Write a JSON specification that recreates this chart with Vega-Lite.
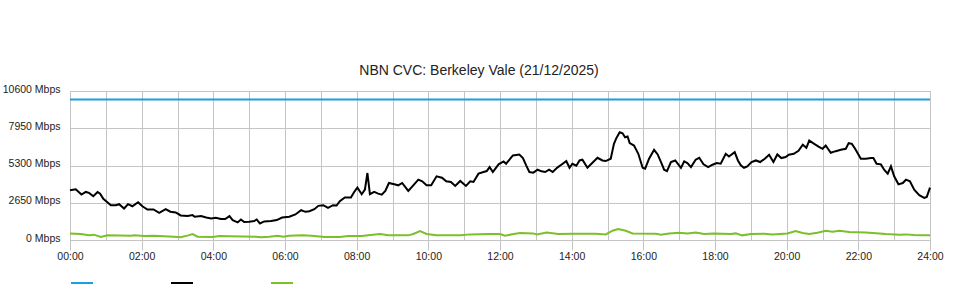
{
  "$schema": "https://vega.github.io/schema/vega-lite/v6.json",
  "width": 860,
  "height": 149,
  "autosize": {"type": "none"},
  "padding": {"left": 70, "top": 91, "right": 30, "bottom": 60},
  "background": "white",
  "title": {"text": "NBN CVC: Berkeley Vale (21/12/2025)", "font": "Liberation Sans", "fontSize": 14, "fontWeight": "normal", "color": "#222222", "offset": 6, "dx": -21},
  "datasets": {
    "cap": [{"h": 0, "v": 10000}, {"h": 24, "v": 10000}],
    "down": [
      {"h":0.00,"v":3540},{"h":0.16,"v":3610},{"h":0.32,"v":3230},{"h":0.44,"v":3420},{"h":0.53,"v":3350},{"h":0.65,"v":3110},{"h":0.77,"v":3420},{"h":0.84,"v":3300},{"h":0.93,"v":2925},{"h":1.14,"v":2477},{"h":1.28,"v":2477},{"h":1.37,"v":2548},{"h":1.51,"v":2240},{"h":1.62,"v":2548},{"h":1.74,"v":2400},{"h":1.90,"v":2690},{"h":2.02,"v":2400},{"h":2.16,"v":2170},{"h":2.33,"v":2170},{"h":2.49,"v":1935},{"h":2.67,"v":2195},{"h":2.80,"v":2010},{"h":2.95,"v":1960},{"h":3.09,"v":1745},{"h":3.28,"v":1700},{"h":3.42,"v":1770},{"h":3.48,"v":1650},{"h":3.66,"v":1700},{"h":3.80,"v":1600},{"h":3.94,"v":1530},{"h":4.07,"v":1580},{"h":4.21,"v":1490},{"h":4.33,"v":1490},{"h":4.45,"v":1700},{"h":4.54,"v":1415},{"h":4.68,"v":1250},{"h":4.77,"v":1460},{"h":4.86,"v":1275},{"h":5.00,"v":1300},{"h":5.14,"v":1345},{"h":5.21,"v":1460},{"h":5.30,"v":1180},{"h":5.42,"v":1320},{"h":5.61,"v":1345},{"h":5.77,"v":1415},{"h":5.92,"v":1600},{"h":6.12,"v":1650},{"h":6.29,"v":1815},{"h":6.45,"v":2120},{"h":6.57,"v":2005},{"h":6.68,"v":2050},{"h":6.82,"v":2195},{"h":6.93,"v":2430},{"h":7.07,"v":2477},{"h":7.20,"v":2290},{"h":7.34,"v":2477},{"h":7.44,"v":2450},{"h":7.53,"v":2760},{"h":7.67,"v":3020},{"h":7.84,"v":3020},{"h":7.93,"v":3420},{"h":8.02,"v":3730},{"h":8.14,"v":3255},{"h":8.23,"v":3585},{"h":8.30,"v":4765},{"h":8.37,"v":3255},{"h":8.49,"v":3420},{"h":8.60,"v":3300},{"h":8.70,"v":3230},{"h":8.80,"v":3490},{"h":8.90,"v":4055},{"h":9.05,"v":3960},{"h":9.16,"v":3890},{"h":9.27,"v":4055},{"h":9.44,"v":3490},{"h":9.58,"v":3890},{"h":9.72,"v":4290},{"h":9.83,"v":4175},{"h":9.95,"v":3890},{"h":10.08,"v":3890},{"h":10.23,"v":4530},{"h":10.38,"v":4435},{"h":10.50,"v":4175},{"h":10.63,"v":4130},{"h":10.75,"v":3845},{"h":10.89,"v":4200},{"h":11.05,"v":3845},{"h":11.17,"v":4175},{"h":11.26,"v":4130},{"h":11.40,"v":4720},{"h":11.54,"v":4835},{"h":11.63,"v":4905},{"h":11.71,"v":5190},{"h":11.80,"v":4835},{"h":11.96,"v":5380},{"h":12.10,"v":5590},{"h":12.17,"v":5425},{"h":12.36,"v":6015},{"h":12.54,"v":6085},{"h":12.64,"v":5830},{"h":12.73,"v":5310},{"h":12.82,"v":4835},{"h":12.93,"v":4790},{"h":13.05,"v":5000},{"h":13.16,"v":4885},{"h":13.26,"v":4835},{"h":13.37,"v":5000},{"h":13.47,"v":4835},{"h":13.60,"v":5150},{"h":13.71,"v":5355},{"h":13.85,"v":5615},{"h":13.94,"v":5140},{"h":14.02,"v":5425},{"h":14.13,"v":5285},{"h":14.22,"v":5660},{"h":14.30,"v":5710},{"h":14.44,"v":5140},{"h":14.58,"v":5495},{"h":14.72,"v":5850},{"h":14.86,"v":5660},{"h":14.95,"v":5615},{"h":15.09,"v":5780},{"h":15.18,"v":6840},{"h":15.25,"v":7265},{"h":15.34,"v":7665},{"h":15.42,"v":7595},{"h":15.49,"v":7310},{"h":15.56,"v":7360},{"h":15.62,"v":6890},{"h":15.74,"v":6720},{"h":15.86,"v":6135},{"h":15.98,"v":5140},{"h":16.05,"v":5070},{"h":16.16,"v":5780},{"h":16.30,"v":6415},{"h":16.40,"v":6085},{"h":16.52,"v":5380},{"h":16.58,"v":5000},{"h":16.66,"v":4905},{"h":16.77,"v":5545},{"h":16.89,"v":5660},{"h":17.05,"v":5130},{"h":17.14,"v":5590},{"h":17.23,"v":5475},{"h":17.33,"v":5190},{"h":17.46,"v":5710},{"h":17.56,"v":5850},{"h":17.68,"v":5380},{"h":17.81,"v":5190},{"h":17.93,"v":5355},{"h":18.05,"v":5475},{"h":18.16,"v":5425},{"h":18.30,"v":6135},{"h":18.39,"v":5945},{"h":18.55,"v":6250},{"h":18.64,"v":5660},{"h":18.72,"v":5310},{"h":18.81,"v":5140},{"h":18.90,"v":5240},{"h":19.02,"v":5545},{"h":19.14,"v":5660},{"h":19.26,"v":5545},{"h":19.39,"v":5780},{"h":19.51,"v":6065},{"h":19.63,"v":5545},{"h":19.74,"v":6085},{"h":19.85,"v":5830},{"h":19.97,"v":5900},{"h":20.06,"v":6065},{"h":20.20,"v":6135},{"h":20.33,"v":6340},{"h":20.45,"v":6780},{"h":20.55,"v":6560},{"h":20.63,"v":7075},{"h":20.77,"v":6840},{"h":20.89,"v":6650},{"h":21.00,"v":6490},{"h":21.09,"v":6720},{"h":21.23,"v":6205},{"h":21.37,"v":6320},{"h":21.51,"v":6415},{"h":21.65,"v":6490},{"h":21.73,"v":6890},{"h":21.82,"v":6840},{"h":21.91,"v":6490},{"h":22.07,"v":5780},{"h":22.21,"v":5780},{"h":22.35,"v":5830},{"h":22.42,"v":5830},{"h":22.51,"v":5425},{"h":22.63,"v":5380},{"h":22.72,"v":5000},{"h":22.82,"v":4720},{"h":22.91,"v":5240},{"h":23.00,"v":4530},{"h":23.12,"v":3960},{"h":23.24,"v":4055},{"h":23.33,"v":4290},{"h":23.44,"v":4175},{"h":23.56,"v":3585},{"h":23.70,"v":3185},{"h":23.84,"v":2995},{"h":23.91,"v":3065},{"h":24.00,"v":3730}
    ],
    "up": [
      {"h":0.00,"v":470},{"h":0.30,"v":425},{"h":0.53,"v":330},{"h":0.67,"v":380},{"h":0.86,"v":210},{"h":1.04,"v":330},{"h":1.70,"v":305},{"h":1.80,"v":330},{"h":2.07,"v":285},{"h":2.35,"v":305},{"h":2.90,"v":235},{"h":3.09,"v":190},{"h":3.30,"v":330},{"h":3.42,"v":425},{"h":3.56,"v":235},{"h":3.98,"v":210},{"h":4.17,"v":285},{"h":4.45,"v":260},{"h":5.19,"v":235},{"h":5.33,"v":190},{"h":5.56,"v":235},{"h":5.80,"v":305},{"h":5.95,"v":235},{"h":6.12,"v":305},{"h":6.49,"v":330},{"h":6.74,"v":305},{"h":7.11,"v":210},{"h":7.53,"v":210},{"h":7.76,"v":285},{"h":8.14,"v":285},{"h":8.32,"v":330},{"h":8.65,"v":425},{"h":8.88,"v":330},{"h":9.44,"v":330},{"h":9.58,"v":425},{"h":9.77,"v":635},{"h":9.95,"v":425},{"h":10.23,"v":330},{"h":10.89,"v":330},{"h":11.17,"v":400},{"h":11.68,"v":425},{"h":12.00,"v":425},{"h":12.14,"v":305},{"h":12.38,"v":425},{"h":12.56,"v":495},{"h":12.93,"v":470},{"h":13.03,"v":400},{"h":13.30,"v":540},{"h":13.63,"v":425},{"h":14.02,"v":450},{"h":14.67,"v":450},{"h":14.95,"v":400},{"h":15.14,"v":660},{"h":15.30,"v":780},{"h":15.51,"v":660},{"h":15.70,"v":470},{"h":16.35,"v":450},{"h":16.49,"v":380},{"h":16.72,"v":470},{"h":17.00,"v":520},{"h":17.23,"v":470},{"h":17.46,"v":540},{"h":17.70,"v":425},{"h":17.97,"v":470},{"h":18.44,"v":425},{"h":18.58,"v":470},{"h":18.76,"v":330},{"h":19.00,"v":425},{"h":19.37,"v":450},{"h":19.60,"v":400},{"h":20.02,"v":470},{"h":20.25,"v":635},{"h":20.44,"v":500},{"h":20.63,"v":425},{"h":20.86,"v":520},{"h":21.09,"v":660},{"h":21.28,"v":590},{"h":21.47,"v":660},{"h":21.75,"v":565},{"h":22.21,"v":540},{"h":22.77,"v":425},{"h":23.14,"v":380},{"h":23.33,"v":400},{"h":23.56,"v":355},{"h":23.75,"v":330},{"h":24.00,"v":330}
    ]
  },
  "encoding": {
    "x": {
      "field": "h", "type": "quantitative",
      "scale": {"domain": [0, 24], "nice": false, "zero": false},
      "axis": {
        "title": null,
        "values": [0,1,2,3,4,5,6,7,8,9,10,11,12,13,14,15,16,17,18,19,20,21,22,23,24],
        "labelExpr": "datum.value % 2 == 0 ? ((datum.value < 10 ? '0' : '') + datum.value + ':00') : ''",
        "tickOpacity": {"condition": {"test": "datum.value % 2 == 1", "value": 0}, "value": 1},
        "tickSize": 10,
        "tickColor": "#c4c4c4",
        "gridColor": "#c4c4c4",
        "domainColor": "#c4c4c4",
        "labelFont": "Liberation Sans",
        "labelFontSize": 10.5,
        "labelColor": "#222222",
        "labelPadding": 1,
        "labelFlush": false,
        "labelOverlap": false
      }
    },
    "y": {
      "field": "v", "type": "quantitative",
      "scale": {"domain": [0, 10600], "nice": false},
      "axis": {
        "title": null,
        "values": [0, 2650, 5300, 7950, 10600],
        "labelExpr": "datum.value + ' Mbps'",
        "ticks": false,
        "labelPadding": 10,
        "labelOffset": -2,
        "gridColor": "#c4c4c4",
        "domainColor": "#c4c4c4",
        "labelFont": "Liberation Sans",
        "labelFontSize": 10.5,
        "labelColor": "#222222"
      }
    },
    "color": {
      "type": "nominal",
      "scale": {"domain": ["Capacity", "Download", "Upload"], "range": ["#1a9fe0", "#000000", "#7bbf2a"]},
      "legend": {
        "orient": "none", "legendX": 0, "legendY": 180,
        "direction": "horizontal", "title": null,
        "symbolType": "stroke", "symbolSize": 484, "symbolStrokeWidth": 2,
        "labelExpr": "''", "labelOffset": 0, "columnPadding": 70, "padding": 0
      }
    }
  },
  "layer": [
    {
      "data": {"name": "cap"},
      "mark": {"type": "line", "strokeWidth": 2},
      "encoding": {"color": {"datum": "Capacity"}}
    },
    {
      "data": {"name": "up"},
      "mark": {"type": "line", "strokeWidth": 2},
      "encoding": {"color": {"datum": "Upload"}}
    },
    {
      "data": {"name": "down"},
      "mark": {"type": "line", "strokeWidth": 2},
      "encoding": {"color": {"datum": "Download"}}
    }
  ],
  "config": {"view": {"stroke": "#c4c4c4"}}
}
